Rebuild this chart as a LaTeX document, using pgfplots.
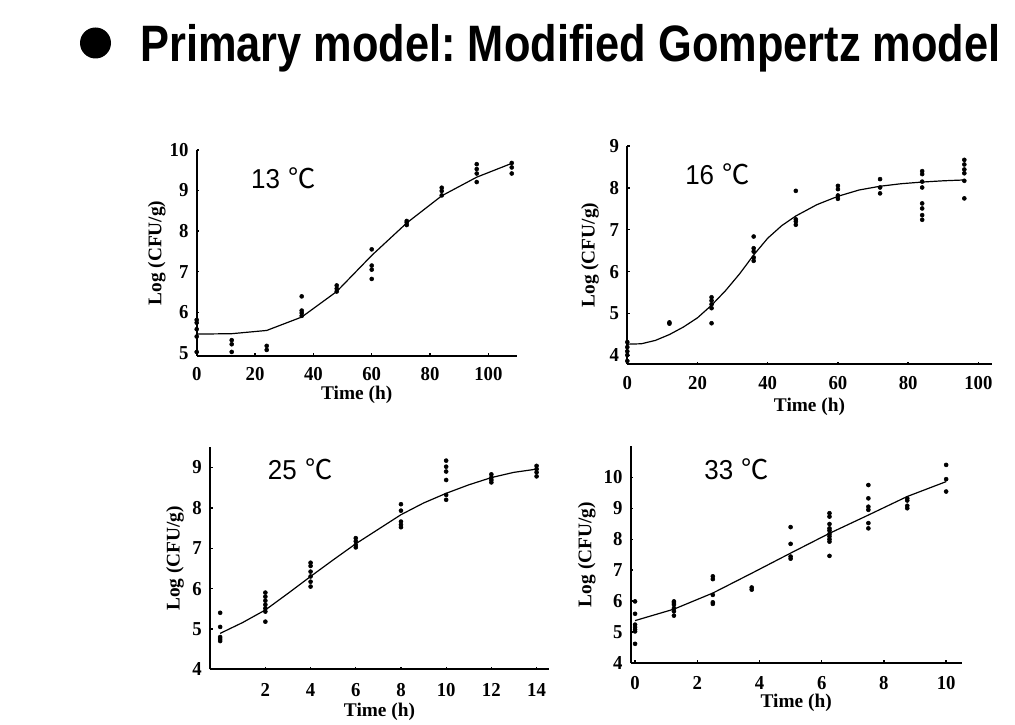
\documentclass[border=0pt]{standalone}
\usepackage{pgfplots}
\pgfplotsset{compat=1.18}
\usepackage{fontspec}
\setmainfont{Liberation Serif}
\newfontfamily\titlefont[FakeStretch=0.847]{Liberation Sans}
\newfontfamily\tempfont[FakeStretch=0.95]{Liberation Sans}
\newfontfamily\cjkfont{Noto Sans CJK SC}
\newfontfamily\tickfont[FakeStretch=0.95]{Liberation Serif}

\pgfplotsset{
  panel/.style={
    scale only axis, axis lines*=left, axis line style={line width=1.5pt},
    tick align=inside, major tick length=2pt, tick style={line width=1pt, black},
    /pgf/number format/assume math mode=true,
    ticklabel style={font=\tickfont\bfseries\fontsize{14.8}{15}\selectfont},
    yticklabel style={anchor=east, inner sep=0pt, xshift=-6pt},
    label style={font=\bfseries\fontsize{14.5}{15}\selectfont},
    xlabel={Time (h)}, ylabel={Log (CFU/g)},
    clip=false,
  },
  pts/.style={only marks, mark=*, mark size=1.5pt, black},
  fit/.style={no marks, black, line width=0.9pt},
}
\tikzset{temp/.style={font=\tempfont\fontsize{20.5}{21}\selectfont}}

\begin{document}
\begin{tikzpicture}[x=0.75pt,y=0.75pt]
\useasboundingbox (0,0) rectangle (1015,725);
\coordinate (pA) at (196.7,369);
\coordinate (pB) at (627.3,360.7);
\coordinate (pC) at (210,55.7);
\coordinate (pD) at (630.7,62);
\fill (95.5,682) circle [radius=15.5];
\node[anchor=base west, inner sep=0pt, font=\titlefont\bfseries\fontsize{38.4}{40}\selectfont] at (140,663.3) {\frenchspacing Primary model: Modified Gompertz model};

% 13 C
\begin{axis}[panel, at={(pA)}, anchor=south west, width=240pt, height=154.5pt,
  xmin=0, xmax=109.7, ymin=4.92, ymax=10,
  xtick={0,20,40,60,80,100}, ytick={5,6,7,8,9,10},
  xticklabel style={anchor=center, inner sep=0pt, yshift=-13.5pt},
  xlabel style={at={(axis description cs:0.5,-0.189)}, anchor=center},
  ylabel style={at={(axis description cs:-0.125,0.5)}, anchor=center}]
\addplot[pts] table {
t v
0 5.81
0 5.74
0 5.58
0 5.40
0 5.02
12 5.31
12 5.21
12 5.02
24 5.17
24 5.07
36 6.39
36 6.04
36 5.98
36 5.91
48 6.66
48 6.58
48 6.51
60 7.55
60 7.15
60 7.05
60 6.82
72 8.25
72 8.21
72 8.15
84 9.07
84 8.99
84 8.88
96 9.65
96 9.53
96 9.42
96 9.21
108 9.68
108 9.57
108 9.42
};
\addplot[fit] table {
t v
0 5.46
12 5.47
24 5.55
36 5.88
48 6.51
60 7.40
72 8.20
84 8.87
96 9.33
108 9.67
};
\node[temp] at (axis description cs:0.271,0.864) {13\hspace{0.3em}{\cjkfont ℃}};
\end{axis}

% 16 C
\begin{axis}[panel, at={(pB)}, anchor=south west, width=273.3pt, height=163.7pt,
  xmin=0, xmax=103.8, ymin=3.79, ymax=9,
  xtick={0,20,40,60,80,100}, ytick={4,5,6,7,8,9},
  xticklabel style={anchor=center, inner sep=0pt, yshift=-14pt},
  xlabel style={at={(axis description cs:0.5,-0.194)}, anchor=center},
  ylabel style={at={(axis description cs:-0.102,0.5)}, anchor=center}]
\addplot[pts] table {
t v
0 4.32
0 4.20
0 4.10
0 4.01
0 3.87
12 4.79
12 4.76
24 5.39
24 5.31
24 5.22
24 5.13
24 4.77
36 6.84
36 6.56
36 6.48
36 6.34
36 6.26
48 7.93
48 7.25
48 7.20
48 7.12
60 8.05
60 7.97
60 7.82
60 7.74
72 8.21
72 8.01
72 7.87
84 8.40
84 8.33
84 8.15
84 8.01
84 7.63
84 7.51
84 7.35
84 7.24
96 8.67
96 8.56
96 8.44
96 8.35
96 8.17
96 7.75
};
\addplot[fit] table {
t v
0 4.27
4 4.28
8 4.36
12 4.50
16 4.68
20 4.90
24 5.20
28 5.55
32 5.95
36 6.40
40 6.80
44 7.10
48 7.33
54 7.60
60 7.80
66 7.95
72 8.04
78 8.10
84 8.14
90 8.17
96 8.19
};
\node[temp] at (axis description cs:0.2475,0.869) {16\hspace{0.3em}{\cjkfont ℃}};
\end{axis}

% 25 C
\begin{axis}[panel, at={(pC)}, anchor=south west, width=254.25pt, height=166.5pt,
  xmin=-0.45, xmax=14.55, ymin=4, ymax=9.5,
  xtick={2,4,6,8,10,12,14}, ytick={4,5,6,7,8,9},
  xticklabel style={anchor=center, inner sep=0pt, yshift=-15.5pt},
  xlabel style={at={(axis description cs:0.5,-0.191)}, anchor=center},
  ylabel style={at={(axis description cs:-0.103,0.5)}, anchor=center}]
\addplot[pts] table {
t v
0 5.40
0 5.05
0 4.80
0 4.75
0 4.70
2 5.90
2 5.80
2 5.70
2 5.60
2 5.51
2 5.43
2 5.18
4 6.64
4 6.56
4 6.42
4 6.30
4 6.17
4 6.05
6 7.25
6 7.17
6 7.08
6 7.02
8 8.09
8 7.93
8 7.66
8 7.58
8 7.52
10 9.17
10 9.02
10 8.90
10 8.69
10 8.32
10 8.20
12 8.83
12 8.75
12 8.69
12 8.63
14 9.04
14 8.96
14 8.88
14 8.78
};
\addplot[fit] table {
t v
0 4.89
1 5.16
2 5.47
3 5.88
4 6.30
5 6.71
6 7.11
7 7.47
8 7.83
9 8.12
10 8.36
11 8.57
12 8.75
13 8.88
14 8.96
};
\node[temp] at (axis description cs:0.266,0.9) {25\hspace{0.3em}{\cjkfont ℃}};
\end{axis}

% 33 C
\begin{axis}[panel, at={(pD)}, anchor=south west, width=248.25pt, height=162.5pt,
  xmin=-0.14, xmax=10.5, ymin=4, ymax=11,
  xtick={0,2,4,6,8,10}, ytick={4,5,6,7,8,9,10},
  xticklabel style={anchor=center, inner sep=0pt, yshift=-15.2pt},
  xlabel style={at={(axis description cs:0.5,-0.182)}, anchor=center},
  ylabel style={at={(axis description cs:-0.133,0.5)}, anchor=center}]
\addplot[pts] table {
t v
0 5.99
0 5.59
0 5.24
0 5.16
0 5.08
0 5.02
0 4.62
1.25 5.99
1.25 5.94
1.25 5.88
1.25 5.77
1.25 5.67
1.25 5.53
2.5 6.80
2.5 6.71
2.5 6.20
2.5 5.96
2.5 5.91
3.75 6.44
3.75 6.37
5 8.39
5 7.85
5 7.44
5 7.37
6.25 8.84
6.25 8.73
6.25 8.49
6.25 8.35
6.25 8.28
6.25 8.17
6.25 8.09
6.25 8.00
6.25 7.92
6.25 7.46
7.5 9.75
7.5 9.32
7.5 9.05
7.5 8.95
7.5 8.52
7.5 8.35
8.75 9.32
8.75 9.25
8.75 9.08
8.75 9.00
10 10.40
10 9.94
10 9.54
};
\addplot[fit] table {
t v
0 5.37
1.25 5.74
2.5 6.26
3.75 6.90
5 7.55
6.25 8.19
7.5 8.78
8.75 9.38
10 9.86
};
\node[temp] at (axis description cs:0.32,0.896) {33\hspace{0.3em}{\cjkfont ℃}};
\end{axis}
\end{tikzpicture}
\end{document}
